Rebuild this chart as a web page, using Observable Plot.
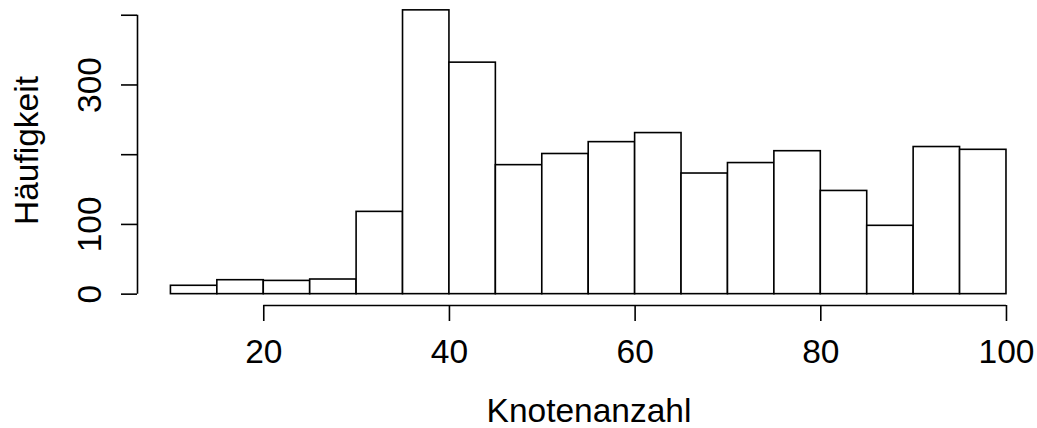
<!DOCTYPE html>
<html>
<head>
<meta charset="utf-8">
<script src="https://cdn.jsdelivr.net/npm/d3@7"></script>
<script src="https://cdn.jsdelivr.net/npm/@observablehq/plot@0.6"></script>
<style>
  html, body { margin: 0; padding: 0; background: white; }
</style>
</head>
<body>
<div id="chart"></div>
<script>
// Histogram data (bins of width 5 from 10 to 100)
const breaks = [10, 15, 20, 25, 30, 35, 40, 45, 50, 55, 60, 65, 70, 75, 80, 85, 90, 95, 100];
const counts = [12, 20, 19, 21, 118, 407, 332, 185, 201, 218, 231, 173, 188, 205, 148, 98, 211, 207];
const xTicks = [20, 40, 60, 80, 100];
const yTicks = [0, 100, 200, 300, 400];
const yTickLabels = [0, 100, 300];
const xLabel = "Knotenanzahl";
const yLabel = "Häufigkeit";

const bins = counts.map((c, i) => ({x1: breaks[i], x2: breaks[i + 1], count: c}));

// R-style 4% axis expansion
const xr = [breaks[0], breaks[breaks.length - 1]];
const xPad = 0.04 * (xr[1] - xr[0]);
const xDomain = [xr[0] - xPad, xr[1] + xPad];
const yMaxC = d3.max(counts);
const yPad = 0.04 * yMaxC;
const yDomain = [-yPad, yMaxC + yPad];

const W = 1037, H = 428;
const fs = 33.5;
const sw = 1.6;

const chart = Plot.plot({
  width: W,
  height: H,
  marginLeft: 137,
  marginRight: 0,
  marginTop: 0,
  marginBottom: 123,
  style: {
    fontFamily: "'Liberation Sans', Arial, Helvetica, sans-serif",
    fontSize: fs + "px",
    background: "white",
    overflow: "visible"
  },
  x: {domain: xDomain, range: [137, 1039.4], axis: null},
  y: {domain: yDomain, range: [305, -1.5], axis: null},
  marks: [
    Plot.rect(bins, {x1: "x1", x2: "x2", y1: 0, y2: "count", fill: "white", stroke: "black", strokeWidth: sw}),
    // x axis line
    Plot.ruleY([yDomain[0]], {x1: xTicks[0], x2: xTicks[xTicks.length - 1], stroke: "black", strokeWidth: sw}),
    Plot.axisX({ticks: xTicks, tickSize: 16, tickFormat: () => "", label: null, stroke: "black", strokeWidth: sw}),
    Plot.text(xTicks, {x: d => d, frameAnchor: "bottom", dy: 57, lineAnchor: "bottom", textAnchor: "middle", text: d => String(d), fontSize: fs, fill: "black"}),
    // y axis line
    Plot.ruleX([xDomain[0]], {y1: yTicks[0], y2: yTicks[yTicks.length - 1], stroke: "black", strokeWidth: sw}),
    Plot.axisY({ticks: yTicks, tickSize: 16, tickFormat: () => "", label: null, stroke: "black", strokeWidth: sw}),
    Plot.text(yTickLabels, {y: d => d, frameAnchor: "left", dx: -37, rotate: -90, lineAnchor: "bottom", textAnchor: "middle", text: d => String(d), fontSize: fs, fill: "black"}),
    // axis titles
    Plot.text([xLabel], {frameAnchor: "bottom", dx: 1.5, dy: 116, lineAnchor: "bottom", textAnchor: "middle", fontSize: fs, fill: "black"}),
    Plot.text([yLabel], {frameAnchor: "left", dx: -100, dy: -2.5, rotate: -90, lineAnchor: "bottom", textAnchor: "middle", fontSize: fs, fill: "black"})
  ]
});
document.getElementById("chart").appendChild(chart);
</script>
</body>
</html>
